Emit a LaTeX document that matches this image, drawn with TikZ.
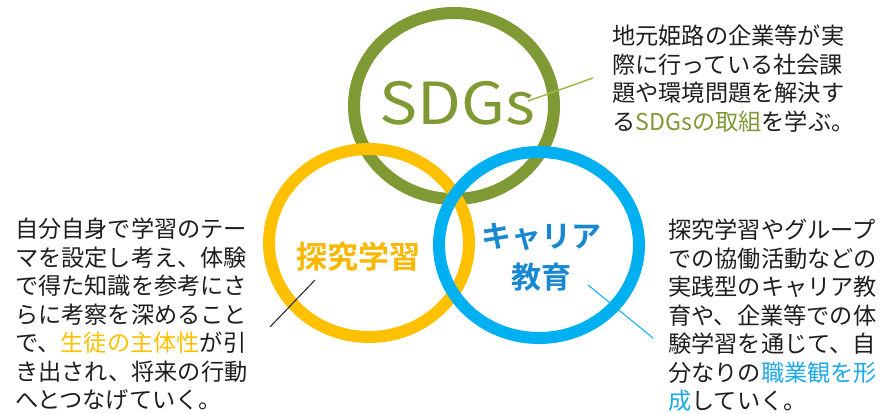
\documentclass[tikz,border=0pt]{standalone}
\usepackage{fontspec}
\setmainfont{Noto Sans CJK JP}[BoldFont={Noto Sans CJK JP Bold}]
\definecolor{sdggreen}{RGB}{127,153,52}
\definecolor{linegreen}{RGB}{155,187,69}
\definecolor{ring yellow}{RGB}{255,192,0}
\definecolor{label yellow}{RGB}{248,184,0}
\definecolor{ring blue}{RGB}{0,176,240}
\definecolor{label blue}{RGB}{24,136,208}
\definecolor{hl blue}{RGB}{30,170,232}
\definecolor{body}{RGB}{30,30,30}
\tikzset{
  ring/.style={line width=12pt},
  bodytext/.style={anchor=north west, inner sep=0pt, align=left, text=body,
    font={\fontsize{23.2}{28.5}\selectfont}},
  ringlabel/.style={inner sep=0pt, align=center},
  pointer/.style={line width=1pt}
}
\begin{document}
\begin{tikzpicture}[x=1pt,y=-1pt]
\useasboundingbox (0,0) rectangle (884,414);
% rings: green, then yellow, then blue on top
\draw[ring, sdggreen] (454,106) ellipse [x radius=100, y radius=93];
\draw[ring, ring yellow] (369,243) ellipse [x radius=100, y radius=94];
\draw[ring, ring blue] (539,245) ellipse [x radius=100, y radius=93];
% ring labels
\node[ringlabel, text=sdggreen, font={\fontsize{58}{60}\selectfont}, xscale=1.1] (sdgs) at (457,103) {SDGs};
\node[ringlabel, text=label yellow, font={\bfseries\fontsize{31}{36}\selectfont}] (tankyu) at (358,257) {探究学習};
\node[ringlabel, text=label blue, font={\bfseries\fontsize{30}{41}\selectfont}] (career) at (541,257) {キャリア\\教育};
% descriptions
\node[bodytext] (descS) at (612,25) {地元姫路の企業等が実\\際に行っている社会課\\題や環境問題を解決す\\る\textcolor{sdggreen}{SDGsの取組}を学ぶ。};
\node[bodytext] (descT) at (15,218) {自分自身で学習のテー\\マを設定し考え、体験\\で得た知識を参考にさ\\らに考察を深めること\\で、\textcolor{ring yellow}{生徒の主体性}が引\\き出され、将来の行動\\へとつなげていく。};
\node[bodytext] (descC) at (668,219) {探究学習やグループ\\での協働活動などの\\実践型のキャリア教\\育や、企業等での体\\験学習を通じて、自\\分なりの\textcolor{hl blue}{職業観を形}\\\textcolor{hl blue}{成}していく。};
% pointer lines
\coordinate (pS1) at (528,101);
\coordinate (pS2) at (593,78);
\coordinate (pT1) at (315,280);
\coordinate (pT2) at (270,327);
\coordinate (pC1) at (588,285);
\coordinate (pC2) at (653,338);
\draw[pointer, linegreen, line width=1.5pt] (pS1) -- (pS2);
\draw[pointer, body] (pT1) -- (pT2);
\draw[pointer, ring blue] (pC1) -- (pC2);
\end{tikzpicture}
\end{document}
